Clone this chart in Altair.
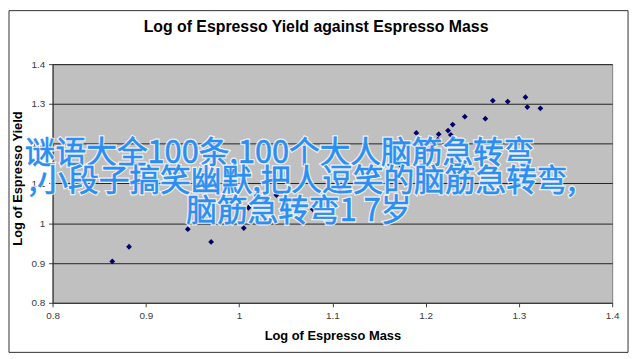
import altair as alt
import pandas as pd

# ---- data ----
mass = [0.864, 0.882, 0.945, 0.970, 1.005, 1.010, 1.027, 1.040, 1.050, 1.079,
        1.108, 1.174, 1.190, 1.207, 1.213, 1.214, 1.224, 1.227, 1.229, 1.242,
        1.264, 1.272, 1.288, 1.307, 1.309, 1.323]
yield_ = [0.904, 0.941, 0.985, 0.953, 0.988, 1.039, 1.058, 1.071, 1.054, 1.035,
          1.087, 1.143, 1.227, 1.190, 1.210, 1.224, 1.233, 1.222, 1.248, 1.268,
          1.263, 1.308, 1.306, 1.317, 1.292, 1.289]
ticks = [0.8, 0.9, 1.0, 1.1, 1.2, 1.3, 1.4]
title_text = "Log of Espresso Yield against Espresso Mass"
x_title = "Log of Espresso Mass"
y_title = "Log of Espresso Yield"
overlay_lines = ["谜语大全100条,100个大人脑筋急转弯",
                 ",小段子搞笑幽默,把人逗笑的脑筋急转弯,",
                 "脑筋急转弯1 7岁"]

df = pd.DataFrame({"mass": mass, "yield": yield_})

W, H = 565, 241

x_enc = alt.X(
    "mass:Q",
    scale=alt.Scale(domain=[0.8, 1.4], nice=False, zero=False),
    axis=alt.Axis(values=ticks, format=".1~f", title=x_title, grid=False,
                  tickSize=4, labelPadding=4, domainColor="#404040",
                  tickColor="#404040", labelFontSize=10, labelColor="#3a3a3a",
                  labelFont="Arial", titleFont="Arial", titleFontSize=13,
                  titleFontWeight="bold", titleColor="#000000",
                  titleY=33, titleBaseline="middle", labelFlush=False),
)
y_enc = alt.Y(
    "yield:Q",
    scale=alt.Scale(domain=[0.8, 1.4], nice=False, zero=False),
    axis=alt.Axis(values=ticks, format=".1~f", title=y_title, grid=True,
                  gridColor="#222222", gridWidth=1, gridOpacity=1,
                  tickSize=4, labelPadding=4, domainColor="#222222",
                  tickColor="#404040", labelFontSize=10, labelColor="#3a3a3a",
                  labelFont="Arial", titleFont="Arial", titleFontSize=13,
                  titleFontWeight="bold", titleColor="#000000",
                  titleX=-35, titleY=115, titleBaseline="middle",
                  labelFlush=False),
)

points = alt.Chart(df).mark_point(
    shape="diamond", filled=True, size=34, color="#000066", opacity=1
).encode(x=x_enc, y=y_enc)

one = alt.Data(values=[{"k": 0}])

border = alt.Chart(one).mark_rect(
    fill=None, stroke="#303030", strokeWidth=1
).encode(x=alt.value(-44), x2=alt.value(581), y=alt.value(-54), y2=alt.value(291))

title = alt.Chart(alt.Data(values=[{"t": title_text}])).mark_text(
    font="Arial", fontSize=16, fontWeight="bold", color="#000000",
    align="center", baseline="alphabetic"
).encode(text="t:N", x=alt.value(266), y=alt.value(-32))

overlay_pos = [(-28, 90.5), (-24, 119.5), (135, 149.5)]
overlay_layers = []
for line, (px, py) in zip(overlay_lines, overlay_pos):
    d = alt.Data(values=[{"t": line}])
    halo = alt.Chart(d).mark_text(
        font="Noto Sans CJK SC", fontSize=31, align="left", baseline="middle",
        fill="#ffffff", stroke="#ffffff", strokeWidth=3, strokeOpacity=0.8
    ).encode(text="t:N", x=alt.value(px), y=alt.value(py))
    txt = alt.Chart(d).mark_text(
        font="Noto Sans CJK SC", fontSize=31, align="left", baseline="middle",
        fill="#2a8ef2", stroke="#2a8ef2", strokeWidth=0.6
    ).encode(text="t:N", x=alt.value(px), y=alt.value(py))
    overlay_layers += [halo, txt]

chart = alt.layer(border, points, title, *overlay_layers).properties(
    width=W, height=H,
    autosize=alt.AutoSizeParams(type="none"),
    padding={"left": 45, "top": 55, "right": 20, "bottom": 52},
    background="#ffffff",
).configure_view(fill="#c0c0c0", stroke="#808080", strokeWidth=1)

chart.save("out.html", embed_options={"renderer": "svg", "actions": False})
